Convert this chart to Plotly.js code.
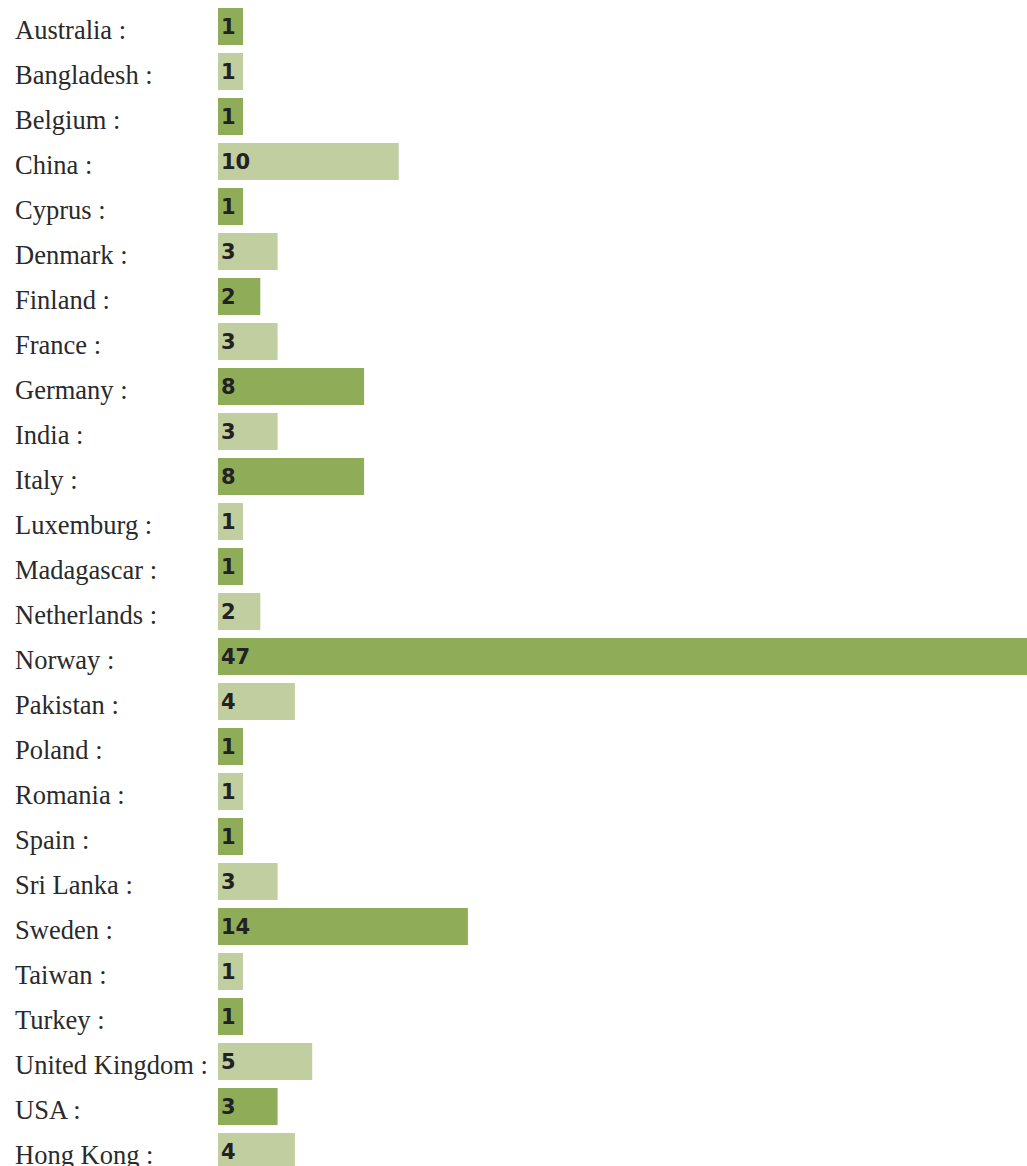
<!DOCTYPE html>
<html>
<head>
<meta charset="utf-8">
<script src="https://cdn.plot.ly/plotly-3.0.1.min.js"></script>
<style>
  html, body { margin: 0; padding: 0; background: #fff; overflow: hidden; }
  #chart { width: 1027px; height: 1166px; }
</style>
</head>
<body>
<div id="chart"></div>
<script>
const countries = [
  "Australia", "Bangladesh", "Belgium", "China", "Cyprus", "Denmark", "Finland",
  "France", "Germany", "India", "Italy", "Luxemburg", "Madagascar", "Netherlands",
  "Norway", "Pakistan", "Poland", "Romania", "Spain", "Sri Lanka", "Sweden",
  "Taiwan", "Turkey", "United Kingdom", "USA", "Hong Kong"
];
const counts = [1, 1, 1, 10, 1, 3, 2, 3, 8, 3, 8, 1, 1, 2, 47, 4, 1, 1, 1, 3, 14, 1, 1, 5, 3, 4];

const darkGreen = "#8fad59";
const lightGreen = "#c1cea0";
const barColors = countries.map((c, i) => (i % 2 === 0 ? darkGreen : lightGreen));

const pxPerUnit = 17.3;
const plotLeft = 218;
const plotWidth = 1027 - plotLeft;
const baseOffset = -0.445;
const rowPitch = 45;
const topMargin = 4;
const plotHeight = 1166 - topMargin;

const trace = {
  type: "bar",
  orientation: "h",
  y: countries,
  x: counts.map(v => v - baseOffset),
  base: baseOffset,
  marker: { color: barColors, line: { width: 0 } },
  text: counts.map(String),
  textposition: "inside",
  insidetextanchor: "start",
  constraintext: "none",
  textangle: 0,
  textfont: { family: "DejaVu Sans", size: 21, weight: "bold", color: "#222222" },
  hoverinfo: "none",
  cliponaxis: true
};

const annotations = countries.map(c => ({
  xref: "paper",
  yref: "y",
  x: (13 - plotLeft) / plotWidth,
  y: c,
  xanchor: "left",
  yanchor: "middle",
  yshift: -3,
  text: c + " :",
  showarrow: false,
  font: { family: "Liberation Serif", size: 26.5, color: "#2a2a2a" }
}));

const layout = {
  width: 1027,
  height: 1166,
  margin: { l: plotLeft, r: 0, t: topMargin, b: 0, pad: 0 },
  paper_bgcolor: "#ffffff",
  plot_bgcolor: "#ffffff",
  showlegend: false,
  bargap: 8 / 45,
  xaxis: {
    range: [baseOffset, baseOffset + plotWidth / pxPerUnit],
    visible: false,
    fixedrange: true
  },
  yaxis: {
    type: "category",
    range: [-0.5 + plotHeight / rowPitch, -0.5],
    showticklabels: false,
    showgrid: false,
    zeroline: false,
    showline: false,
    ticks: "",
    fixedrange: true
  },
  annotations: annotations
};

Plotly.newPlot("chart", [trace], layout, { displayModeBar: false, staticPlot: true });
</script>
</body>
</html>
